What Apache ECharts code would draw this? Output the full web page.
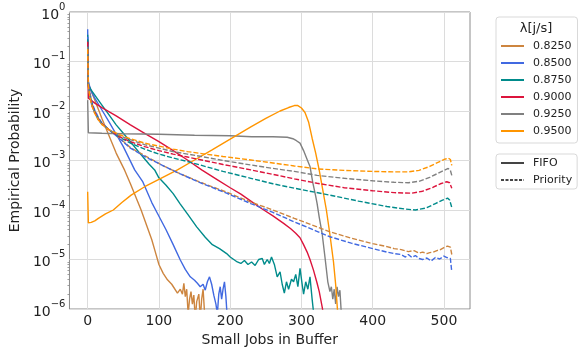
<!DOCTYPE html>
<html>
<head>
<meta charset="utf-8">
<script src="https://cdn.jsdelivr.net/npm/echarts@6/dist/echarts.min.js"></script>
<style>
html,body{margin:0;padding:0;background:#fff;}
#main{width:583px;height:352px;}
</style>
</head>
<body>
<div id="main"></div>
<script>
// ---- Data (x = small jobs in buffer, values = log10 of empirical probability) ----
const lambdas = ['0.8250', '0.8500', '0.8750', '0.9000', '0.9250', '0.9500'];
const colors = ['#cd853f', '#4169e1', '#008b8b', '#dc143c', '#808080', '#ff9500'];

const xTicks = [0, 100, 200, 300, 400, 500];

// FIFO
const fifoX_0825 = [0,1,5,10,20,30,40,52,60,75,90,95,100,106,112,118,126,130,133,135,137,139,141,143,145,147,149,151,153,156,158,160,162,165];
const fifoL_0825 = [-0.6,-1.45,-1.6,-1.78,-2.15,-2.5,-2.85,-3.2,-3.47,-4.0,-4.6,-4.85,-5.1,-5.28,-5.41,-5.5,-5.68,-5.6,-5.7,-5.48,-5.75,-5.6,-6.1,-5.8,-5.65,-5.9,-5.72,-6.2,-5.85,-5.7,-6.2,-5.8,-5.6,-6.3];

const fifoX_0850 = [0,1,5,10,20,30,40,50,66,77,90,98,110,120,130,137,144,150,154,158,162,165,168,171,174,177,180,182,184,186,188,190,192,194,196];
const fifoL_0850 = [-0.35,-1.42,-1.6,-1.74,-1.98,-2.22,-2.47,-2.72,-3.19,-3.42,-3.85,-4.07,-4.4,-4.7,-5.01,-5.2,-5.35,-5.42,-5.48,-5.55,-5.5,-5.62,-5.45,-5.35,-5.5,-5.72,-5.9,-6.1,-5.7,-5.55,-5.8,-5.6,-5.45,-5.75,-6.2];

const fifoX_0875 = [0,1,5,10,20,30,40,50,60,73,86,94,100,110,120,130,140,153,165,175,185,195,200,205,210,215,220,225,230,235,240,245,248,252,255,258,262,266,270,273,276,279,282,286,289,292,295,298,301,303,306,309,312,315,318];
const fifoL_0875 = [-0.46,-1.48,-1.58,-1.68,-1.88,-2.08,-2.28,-2.45,-2.62,-2.85,-3.07,-3.19,-3.35,-3.5,-3.67,-3.88,-4.08,-4.34,-4.55,-4.7,-4.78,-4.88,-4.95,-5.0,-5.05,-5.08,-5.02,-5.1,-5.05,-5.12,-5.0,-4.98,-5.1,-5.0,-5.08,-4.95,-5.1,-5.35,-5.25,-5.5,-5.68,-5.45,-5.6,-5.4,-5.45,-5.3,-5.55,-5.18,-5.5,-5.7,-5.45,-5.6,-5.35,-5.8,-6.2];

const fifoX_0900 = [0,1,10,20,40,60,80,100,119,140,160,180,200,215,229,245,260,275,285,292,298,303,308,312,317,322,325,329,332];
const fifoL_0900 = [-0.57,-1.74,-1.84,-1.93,-2.1,-2.28,-2.45,-2.62,-2.79,-2.99,-3.19,-3.37,-3.55,-3.68,-3.82,-3.98,-4.12,-4.27,-4.38,-4.47,-4.56,-4.7,-4.85,-5.0,-5.22,-5.48,-5.65,-5.95,-6.2];

const fifoX_0925 = [0,1,20,50,100,150,200,230,260,280,288,293,298,303,308,312,316,320,322,325,329,333,337,340,342,344,346,348,350,352,354,356,358];
const fifoL_0925 = [-1.78,-2.44,-2.45,-2.46,-2.47,-2.49,-2.5,-2.52,-2.52,-2.53,-2.56,-2.6,-2.65,-2.8,-2.98,-3.12,-3.45,-3.72,-3.87,-4.15,-4.47,-4.95,-5.45,-5.65,-5.55,-5.8,-5.6,-5.9,-5.55,-5.75,-5.62,-6.1,-6.3];

const fifoX_0950 = [0,1,5,10,15,25,36,48,61,80,100,126,150,174,200,229,250,270,282,290,295,300,305,310,315,320,325,330,335,340,345,348,351];
const fifoL_0950 = [-3.63,-4.26,-4.25,-4.22,-4.17,-4.08,-4.0,-3.85,-3.7,-3.53,-3.38,-3.19,-2.99,-2.79,-2.57,-2.32,-2.15,-2.0,-1.93,-1.89,-1.89,-1.94,-2.03,-2.22,-2.55,-2.85,-3.2,-3.6,-4.0,-4.5,-5.05,-5.5,-6.1];

// Priority
const prioX_0825 = [0,1,3,6,10,15,20,30,45,60,80,105,130,160,195,229,260,290,320,340,370,400,420,430,440,450,458,465,470,476,480,485,490,495,500,505,509,511];
const prioL_0825 = [-0.7,-1.45,-1.65,-1.85,-2.0,-2.15,-2.25,-2.38,-2.55,-2.74,-2.9,-3.1,-3.27,-3.45,-3.64,-3.84,-4.0,-4.17,-4.33,-4.44,-4.57,-4.68,-4.74,-4.78,-4.8,-4.84,-4.82,-4.87,-4.85,-4.88,-4.86,-4.85,-4.82,-4.8,-4.76,-4.73,-4.75,-4.9];

const prioX_0850 = [0,1,3,6,10,15,20,30,45,60,80,105,130,160,195,229,260,290,320,340,370,400,420,430,440,446,450,455,460,465,470,476,482,488,494,500,504,506,509,511];
const prioL_0850 = [-0.5,-1.4,-1.62,-1.83,-1.98,-2.13,-2.24,-2.38,-2.56,-2.75,-2.92,-3.1,-3.27,-3.46,-3.66,-3.87,-4.05,-4.24,-4.42,-4.54,-4.67,-4.78,-4.85,-4.88,-4.9,-4.95,-4.9,-4.96,-4.92,-4.98,-5.0,-4.97,-5.03,-4.96,-4.99,-4.93,-4.96,-4.94,-4.98,-5.25];

const prioX_0875 = [0,1,3,6,10,15,20,30,45,60,80,100,120,140,160,190,229,260,290,340,380,420,445,460,475,488,498,505,508,511];
const prioL_0875 = [-0.55,-1.5,-1.68,-1.87,-2.02,-2.16,-2.26,-2.38,-2.53,-2.65,-2.77,-2.87,-2.95,-3.02,-3.1,-3.22,-3.36,-3.47,-3.56,-3.7,-3.82,-3.93,-3.98,-4.0,-3.96,-3.87,-3.8,-3.76,-3.8,-3.95];

const prioX_0900 = [0,1,3,6,10,15,20,30,45,60,80,100,120,140,160,190,229,260,290,322,360,400,430,455,470,485,495,504,508,511];
const prioL_0900 = [-0.6,-1.5,-1.7,-1.88,-2.03,-2.17,-2.26,-2.38,-2.52,-2.62,-2.72,-2.8,-2.87,-2.93,-2.99,-3.08,-3.19,-3.28,-3.37,-3.46,-3.55,-3.61,-3.65,-3.66,-3.62,-3.54,-3.47,-3.43,-3.45,-3.56];

const prioX_0925 = [0,1,3,6,10,15,20,30,45,60,80,100,120,140,160,190,229,260,290,322,360,400,430,450,465,480,490,500,506,509,511];
const prioL_0925 = [-0.7,-1.5,-1.7,-1.9,-2.04,-2.18,-2.27,-2.38,-2.5,-2.58,-2.68,-2.75,-2.82,-2.87,-2.92,-3.0,-3.09,-3.16,-3.22,-3.3,-3.36,-3.41,-3.44,-3.45,-3.42,-3.34,-3.27,-3.2,-3.16,-3.2,-3.3];

const prioX_0950 = [0,1,3,6,10,15,20,30,45,60,80,100,120,140,160,190,229,260,290,322,360,400,430,450,465,480,490,500,506,509,511];
const prioL_0950 = [-0.75,-1.5,-1.7,-1.9,-2.05,-2.18,-2.27,-2.38,-2.48,-2.56,-2.65,-2.71,-2.77,-2.82,-2.86,-2.92,-2.99,-3.05,-3.11,-3.17,-3.2,-3.22,-3.23,-3.23,-3.2,-3.12,-3.05,-2.98,-2.95,-2.98,-3.1];

const fifoSets = [[fifoX_0825, fifoL_0825],[fifoX_0850, fifoL_0850],[fifoX_0875, fifoL_0875],[fifoX_0900, fifoL_0900],[fifoX_0925, fifoL_0925],[fifoX_0950, fifoL_0950]];
const prioSets = [[prioX_0825, prioL_0825],[prioX_0850, prioL_0850],[prioX_0875, prioL_0875],[prioX_0900, prioL_0900],[prioX_0925, prioL_0925],[prioX_0950, prioL_0950]];

function toPairs(xs, ls) { return xs.map((x, i) => [x, Math.pow(10, ls[i])]); }

const FONT = 'DejaVu Sans';
const LW = 1.4;
const DASH = [5, 2];
const series = [];
lambdas.forEach((lam, i) => {
  series.push({
    name: lam, type: 'line', data: toPairs(fifoSets[i][0], fifoSets[i][1]),
    showSymbol: false, symbol: 'none', color: colors[i],
    lineStyle: { width: LW, color: colors[i], type: 'solid' }, z: 3, animation: false
  });
});
lambdas.forEach((lam, i) => {
  series.push({
    name: lam, type: 'line', data: toPairs(prioSets[i][0], prioSets[i][1]),
    showSymbol: false, symbol: 'none', color: colors[i],
    lineStyle: { width: LW, color: colors[i], type: DASH }, z: 3, animation: false
  });
});
series.push({ name: 'FIFO', type: 'line', data: [], symbol: 'none', color: '#444', lineStyle: { width: 1.2, color: '#444', type: 'solid' } });
series.push({ name: 'Priority', type: 'line', data: [], symbol: 'none', color: '#444', lineStyle: { width: 1.2, color: '#444', type: [3, 1.5] } });

// minor tick positions (log10 of k*10^n)
const minorTickExps = [];
for (let e = -6; e < 0; e++) for (let k = 2; k <= 9; k++) minorTickExps.push(e + Math.log10(k));

const legendCommon = {
  orient: 'vertical', left: 496,
  itemWidth: 23, itemHeight: 14, itemGap: 3,
  itemStyle: { opacity: 0 },
  borderColor: '#d9d9d9', borderWidth: 1, borderRadius: 3,
  textStyle: { fontFamily: FONT, fontSize: 11, lineHeight: 14, color: '#222', padding: [0, 0, 0, 4] },
  selectedMode: false
};

const chart = echarts.init(document.getElementById('main'), null, { renderer: 'canvas' });
chart.setOption({
  animation: false,
  backgroundColor: '#fff',
  grid: { left: 65, top: 12, right: 113, bottom: 43, show: true, borderColor: '#8c8c8c', borderWidth: 1, containLabel: false },
  xAxis: {
    type: 'value', min: -25.55, max: 536.55,
    name: 'Small Jobs in Buffer', nameLocation: 'middle', nameGap: 17,
    nameTextStyle: { fontFamily: FONT, fontSize: 14, color: '#222', verticalAlign: 'top' },
    axisLine: { show: false },
    axisTick: { show: false, customValues: xTicks },
    axisLabel: { customValues: xTicks, fontFamily: FONT, fontSize: 14, color: '#222', margin: 5 },
    splitLine: { show: true, lineStyle: { color: '#dcdcdc', width: 1 } }
  },
  yAxis: [{
    type: 'log', logBase: 10, min: 1e-6, max: 1, splitNumber: 6,
    name: 'Empirical Probability', nameLocation: 'middle', nameGap: 36,
    nameTextStyle: { fontFamily: FONT, fontSize: 14, color: '#222' },
    axisLine: { show: false },
    axisTick: { show: false },
    axisLabel: {
      margin: 4, fontFamily: FONT, color: '#222',
      formatter: function (v) {
        const e = Math.round(Math.log10(v));
        const s = String(e).replace('-', '\u2212');
        return '{b|10}{s|' + s + '}';
      },
      rich: {
        b: { fontFamily: FONT, fontSize: 14, color: '#222', lineHeight: 20, verticalAlign: 'bottom' },
        s: { fontFamily: FONT, fontSize: 10, color: '#222', verticalAlign: 'top' }
      }
    },
    splitLine: { show: true, lineStyle: { color: '#dcdcdc', width: 1 } }
  }, {
    type: 'value', min: -6, max: 0, position: 'left',
    axisLine: { show: false },
    axisTick: { show: true, inside: false, length: 2, customValues: minorTickExps, lineStyle: { color: '#888', width: 0.8 } },
    axisLabel: { show: false },
    splitLine: { show: false }
  }],
  legend: [
    Object.assign({}, legendCommon, { top: 17, data: lambdas, padding: [22, 6, 5, 4] }),
    Object.assign({}, legendCommon, { top: 154, data: ['FIFO', 'Priority'], padding: [2, 5, 2, 4] })
  ],
  graphic: [{
    type: 'text', x: 536, y: 29,
    style: { text: '\u03bb[j/s]', font: '13px "DejaVu Sans"', fill: '#222', textAlign: 'center', textVerticalAlign: 'middle' }
  }],
  series: series
});
</script>
</body>
</html>
